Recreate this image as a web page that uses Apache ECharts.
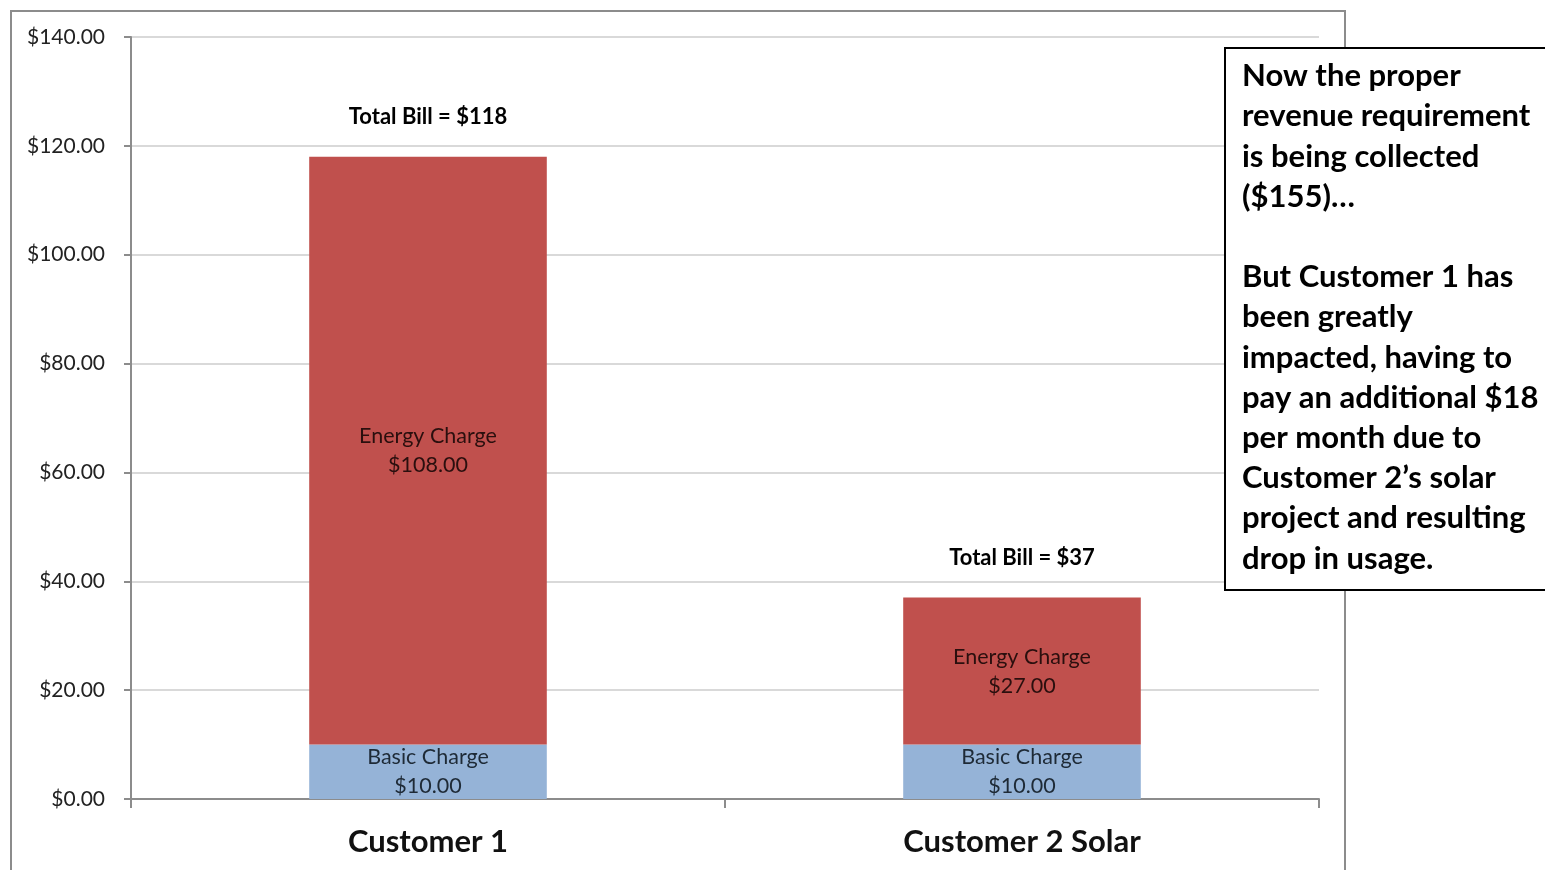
<!DOCTYPE html>
<html>
<head>
<meta charset="utf-8">
<script src="https://cdn.jsdelivr.net/npm/echarts@6/dist/echarts.min.js"></script>
<style>
html,body{margin:0;padding:0;background:#fff;}
#chart{width:1545px;height:870px;}
</style>
</head>
<body>
<div id="chart"></div>
<script>
const categories = ['Customer 1', 'Customer 2 Solar'];
const basicCharge = [10, 10];
const energyCharge = [108, 27];
const totalBill = [118, 37];
const yTicks = [0, 20, 40, 60, 80, 100, 120, 140];
const noteText = 'Now the proper\nrevenue requirement\nis being collected\n($155)…\n\nBut Customer 1 has\nbeen greatly\nimpacted, having to\npay an additional $18\nper month due to\nCustomer 2’s solar\nproject and resulting\ndrop in usage.';

const FONT = 'Lato, "Open Sans", sans-serif';
const chart = echarts.init(document.getElementById('chart'));
chart.setOption({
  backgroundColor: '#fff',
  animation: false,
  grid: { left: 131, right: 226, top: 37, bottom: 71 },
  xAxis: {
    type: 'category',
    data: categories,
    axisLine: { lineStyle: { color: '#8c8c8c', width: 2 } },
    axisTick: { show: true, length: 9, lineStyle: { color: '#8c8c8c', width: 2 } },
    axisLabel: { fontFamily: FONT, fontSize: 31, fontWeight: 'bold', color: '#111', margin: 27 }
  },
  yAxis: {
    type: 'value',
    min: 0, max: 140, interval: 20,
    axisLine: { show: true, lineStyle: { color: '#8c8c8c', width: 2 } },
    axisTick: { show: true, inside: false, length: 7, lineStyle: { color: '#8c8c8c', width: 2 } },
    splitLine: { lineStyle: { color: '#d9d9d9', width: 2 } },
    axisLabel: {
      fontFamily: FONT, fontSize: 21, color: '#222', margin: 26,
      formatter: v => '$' + v.toFixed(2)
    }
  },
  series: [
    {
      name: 'Basic Charge', type: 'bar', stack: 'bill', barWidth: '40%',
      data: basicCharge,
      itemStyle: { color: '#95b3d7' },
      label: {
        show: true, position: 'inside', fontFamily: FONT, fontSize: 21.5, color: '#1e2a36', lineHeight: 29,
        formatter: p => 'Basic Charge\n$' + p.value.toFixed(2)
      }
    },
    {
      name: 'Energy Charge', type: 'bar', stack: 'bill', barWidth: '40%',
      data: energyCharge,
      itemStyle: { color: '#c0504d' },
      label: {
        show: true, position: 'inside', fontFamily: FONT, fontSize: 21.5, color: '#2a0f0e', lineHeight: 29,
        formatter: p => 'Energy Charge\n$' + p.value.toFixed(2)
      }
    },
    {
      name: 'Total', type: 'scatter', symbolSize: 0,
      data: totalBill,
      itemStyle: { opacity: 1 },
      label: {
        show: true, position: 'top', distance: 29, fontFamily: FONT, fontSize: 22, fontWeight: 'bold', color: '#000',
        formatter: p => 'Total Bill = $' + p.value
      },
      z: 10
    }
  ],
  graphic: [
    {
      type: 'rect', silent: true, z: -10,
      shape: { x: 11, y: 11, width: 1334, height: 900 },
      style: { fill: 'none', stroke: '#8c8c8c', lineWidth: 2 }
    },
    {
      type: 'rect', z: 100, zlevel: 0,
      shape: { x: 1225, y: 48, width: 340, height: 542 },
      style: { fill: '#fff', stroke: '#000', lineWidth: 2 }
    },
    {
      type: 'text', x: 1242, y: 56, z: 101,
      style: {
        text: noteText, fontFamily: FONT, fontSize: 31, fontWeight: 'bold',
        fill: '#000', lineHeight: 40.2
      }
    }
  ]
});
</script>
</body>
</html>
